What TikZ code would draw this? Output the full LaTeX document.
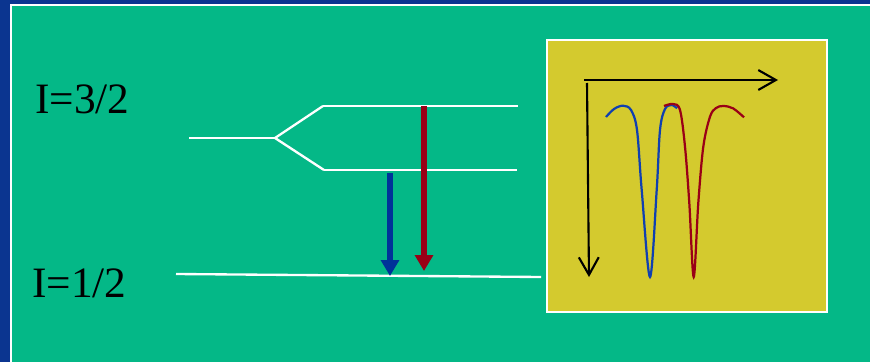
\documentclass[tikz,border=0pt]{standalone}
\usepackage{fontspec}
\setmainfont{Liberation Serif}
\usetikzlibrary{arrows.meta}
\definecolor{slidebg}{HTML}{0B3590}
\definecolor{slidegreen}{HTML}{04B887}
\definecolor{boxyellow}{HTML}{D4CA2E}
\definecolor{arrowblue}{HTML}{003399}
\definecolor{curveblue}{HTML}{1040B0}
\definecolor{darkred}{HTML}{990016}

\begin{document}
\begin{tikzpicture}[x=0.03cm,y=-0.03cm,
   state/.style={white,line width=2pt},
   trans/.style={line width=5pt,-{Triangle[length=13.5pt,width=15pt]}},
   axis/.style={black,line width=1.8pt,-{Straight Barb[length=15pt,width=17pt]}},
   spin/.style={font=\fontsize{37}{40}\selectfont,inner sep=0pt,anchor=base west},
   dip/.style={line width=1.9pt}]
   \useasboundingbox (0,0) rectangle (870,362);
   \fill[slidebg] (0,0) rectangle (870,362);
   \fill[slidegreen] (11,5) rectangle (870,362);
   \draw[white,line width=1.7pt] (11,362) -- (11,5) -- (870,5);
   % spin labels
   \node[spin] (upper) at (35,113) {I=3/2};
   \node[spin] (lower) at (32,297) {I=1/2};
   % edit here for the levels
   \coordinate (u0) at (189,138);
   \coordinate (split) at (275,138);
   \coordinate (ua) at (323,106);
   \coordinate (ub) at (518,106);
   \coordinate (la) at (324,170);
   \coordinate (lb) at (517,170);
   \coordinate (g0) at (176,274);
   \coordinate (g1) at (541,277);
   \draw[state] (u0) -- (split);
   \draw[state] (split) -- (ua);
   \draw[state] (split) -- (la);
   \draw[state] (ua) -- (ub);
   \draw[state] (la) -- (lb);
   \draw[state] (g0) -- (g1);
   % transitions
   \coordinate (btop) at (390,173);
   \coordinate (bend) at (390,276);
   \coordinate (rtop) at (424,106);
   \coordinate (rend) at (424,271);
   \draw[trans,arrowblue] (btop) -- (bend);
   \draw[trans,darkred] (rtop) -- (rend);
   % spectrum
   \draw[white,line width=1.5pt,fill=boxyellow] (547,40) rectangle (827,312);
   \coordinate (origin) at (584,80);
   \coordinate (xend) at (778,80);
   \coordinate (vtop) at (587,83);
   \coordinate (yend) at (589,277);
   \draw[axis] (origin) -- (xend);
   \draw[axis] (vtop) -- (yend);
   \draw[dip,curveblue] plot[smooth,tension=0.55] coordinates {(606,117) (614,109) (623,105.7) (631,110) (637,130) (641.7,190) (650,277) (656.7,190) (660,130) (665,109) (671.7,105) (677,108.3)};
   \draw[dip,darkred] plot[smooth,tension=0.55] coordinates {(664,106) (673,104) (680,110) (685,146.7) (689.3,203) (693.7,277) (698.3,203) (703.3,146.7) (710,116.7) (716,108) (723.3,106) (733,108.3) (744,117.3)};
\end{tikzpicture}
\end{document}
